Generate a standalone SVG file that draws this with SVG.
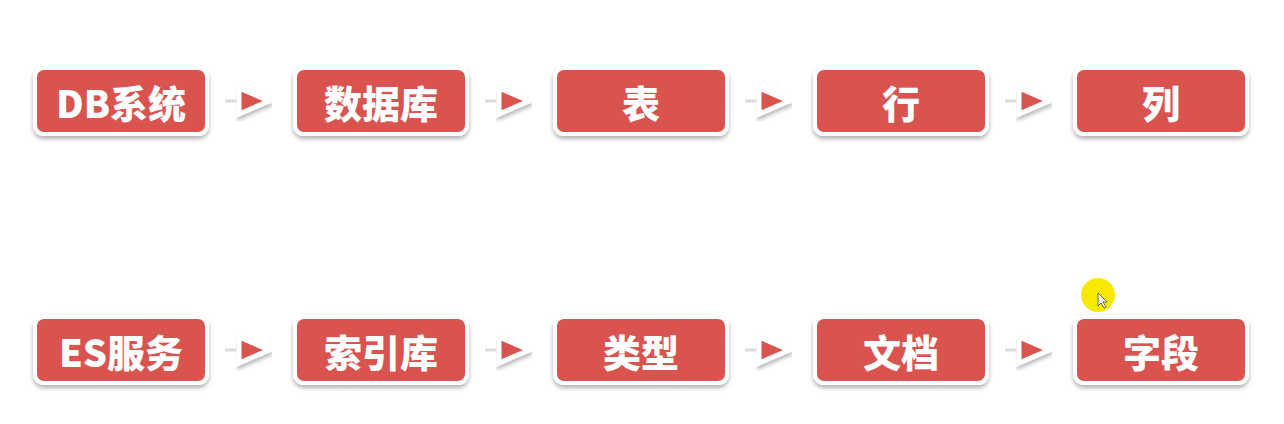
<svg xmlns="http://www.w3.org/2000/svg" width="1284" height="424" viewBox="0 0 1284 424">
<defs>
<filter id="sh" x="-10%" y="-20%" width="120%" height="150%">
<feDropShadow dx="0" dy="3" stdDeviation="2" flood-color="#000" flood-opacity="0.3"/>
</filter>
<g id="arrow">
<line x1="-18" y1="0" x2="-4" y2="0" stroke="#dcdcdc" stroke-width="3"/>
<polygon points="-4,-13 26,0 -4,13" fill="#d9534f" stroke="#fff" stroke-width="5" stroke-linejoin="miter" filter="url(#sh)"/>
</g>
</defs>
<style>
.box{fill:#d9534f;stroke:#fff;stroke-width:4;filter:url(#sh)}
.t{font-family:"Noto Sans CJK SC","Noto Sans",sans-serif;font-weight:900;font-size:38px;fill:#fff;text-anchor:middle;dominant-baseline:central}
</style>
<rect width="1284" height="424" fill="#fff"/>
<g id="connectors">
<use href="#arrow" x="243" y="101"/>
<use href="#arrow" x="503" y="101"/>
<use href="#arrow" x="763" y="101"/>
<use href="#arrow" x="1023" y="101"/>
<use href="#arrow" x="243" y="350"/>
<use href="#arrow" x="503" y="350"/>
<use href="#arrow" x="763" y="350"/>
<use href="#arrow" x="1023" y="350"/>
</g>
<g id="n1"><rect class="box" x="35" y="68" width="172" height="66" rx="9"/><text class="t" x="121" y="101">DB系统</text></g>
<g id="n2"><rect class="box" x="295" y="68" width="172" height="66" rx="9"/><text class="t" x="381" y="101">数据库</text></g>
<g id="n3"><rect class="box" x="555" y="68" width="172" height="66" rx="9"/><text class="t" x="641" y="101">表</text></g>
<g id="n4"><rect class="box" x="815" y="68" width="172" height="66" rx="9"/><text class="t" x="901" y="101">行</text></g>
<g id="n5"><rect class="box" x="1075" y="68" width="172" height="66" rx="9"/><text class="t" x="1161" y="101">列</text></g>
<g id="m1"><rect class="box" x="35" y="317" width="172" height="66" rx="9"/><text class="t" x="121" y="350">ES服务</text></g>
<g id="m2"><rect class="box" x="295" y="317" width="172" height="66" rx="9"/><text class="t" x="381" y="350">索引库</text></g>
<g id="m3"><rect class="box" x="555" y="317" width="172" height="66" rx="9"/><text class="t" x="641" y="350">类型</text></g>
<g id="m4"><rect class="box" x="815" y="317" width="172" height="66" rx="9"/><text class="t" x="901" y="350">文档</text></g>
<g id="m5"><rect class="box" x="1075" y="317" width="172" height="66" rx="9"/><text class="t" x="1161" y="350">字段</text></g>
<g id="cursor">
<circle cx="1098" cy="295" r="17" fill="#f7ea00"/>
<polygon points="1098,293 1098,306 1101,303 1104,308 1106,307 1103,302 1107,302" fill="#fff" stroke="#444" stroke-width="0.8"/>
</g>
</svg>
